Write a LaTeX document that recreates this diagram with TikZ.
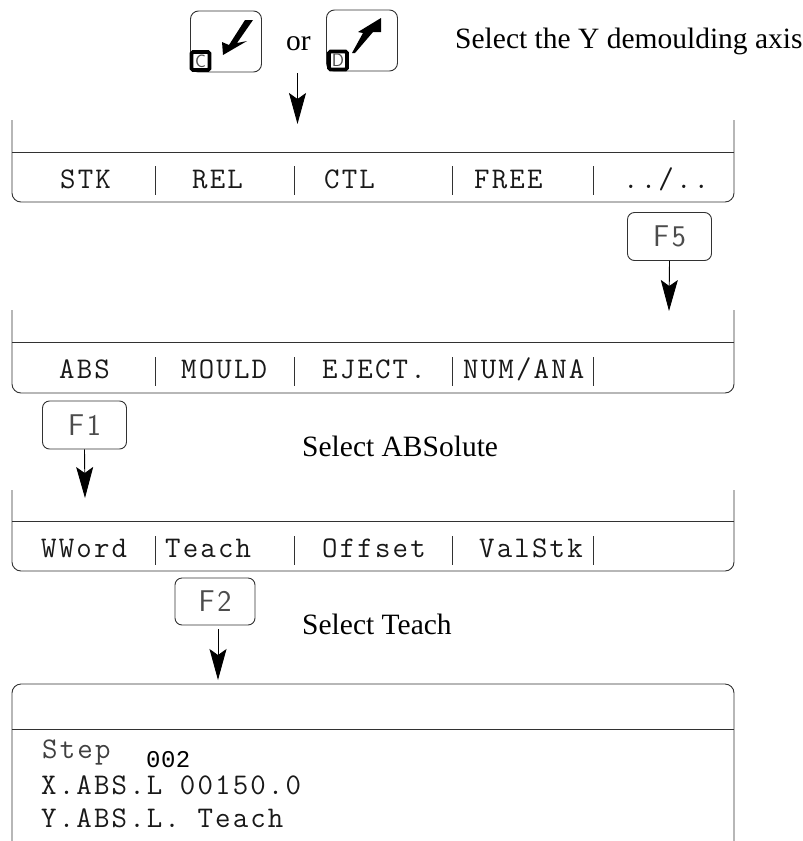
\documentclass[tikz,border=0pt]{standalone}
\usepackage{fontspec}
\setmainfont{Liberation Serif}
\newfontfamily\scrfont[LetterSpace=7.2]{Latin Modern Mono}
\newfontfamily\stepfont[LetterSpace=2]{Liberation Mono}
\newfontfamily\keyfont[LetterSpace=9]{Latin Modern Sans}
\usepackage{tikz}
\usetikzlibrary{arrows.meta,positioning}
\definecolor{lineink}{RGB}{50,50,50}
\tikzset{
  fkey/.style={rectangle,rounded corners=7pt,draw=lineink,line width=0.9pt,minimum width=84pt,minimum height=48pt,inner sep=0pt},
  arrowkey/.style={rectangle,rounded corners=8pt,draw=lineink,line width=0.9pt,minimum width=71pt,minimum height=61pt,inner sep=0pt},
  tag/.style={rectangle,draw=black,line width=3.6pt,rounded corners=1.5pt,fill=white,minimum size=18pt,inner sep=0pt,font=\fontsize{18}{18}\sffamily\selectfont,text=black!70},
  keytext/.style={font=\fontsize{30}{30}\keyfont\selectfont,text=black!70},
  note/.style={font=\fontsize{29.5}{30}\selectfont,anchor=base west,inner sep=0pt},
  scr/.style={font=\fontsize{30}{30}\scrfont\selectfont,text=black!90,anchor=base west,inner sep=0pt},
  panel/.style={draw=lineink,line width=0.9pt,rounded corners=9pt},
  sep/.style={draw=lineink,line width=0.9pt},
  down/.style={-{Stealth[length=31pt,width=17pt,inset=6pt]},draw=black,line width=0.9pt},
}
\begin{document}
\begin{tikzpicture}[x=1pt,y=-1pt]
  \useasboundingbox (0,0) rectangle (803,841);
  % keys at the top
  \node[arrowkey] (keyc) at (226,41.5) {};
  \node[arrowkey] (keyd) at (362,40.5) {};
  \node[tag] (tagc) at (200.5,61) {C};
  \node[tag] (tagd) at (338,60.5) {D};
  \fill (223,55) -- (222,42) -- (229,45) -- (245,20) -- (253,20) -- (237,43) -- (247,41) -- cycle;
  \fill (352,53) -- (355,53) -- (373,32) -- (381,32) -- (381,18) -- (358,32) -- (363,33) -- cycle;
  \node[note] (or) at (286,50) {or};
  \node[note] (axis) at (455,48) {Select the Y demoulding axis};
  \coordinate (or1) at (297.5,73);
  \coordinate (top1) at (297.5,124);
  \draw[down] (or1) -- (top1);
  % first screen
  \draw[panel] (12,120) -- (12,202) -- (734,202) -- (734,120);
  \draw[sep] (12,152) -- (734,152);
  \node[scr] (stk) at (60,188) {STK};
  \node[scr] (rel) at (192,188) {REL};
  \node[scr] (ctl) at (324,188) {CTL};
  \node[scr] (free) at (474,188) {FREE};
  \node[scr] (more) at (623,188) {../..};
  \draw[sep] (155,166) -- (155,195);
  \draw[sep] (294,166) -- (294,195);
  \draw[sep] (452.5,166) -- (452.5,195);
  \draw[sep] (593,166) -- (593,195);
  \node[fkey] (f5) at (669.5,236.5) {};
  \node[keytext] (f5t) at (f5) {F5};
  \coordinate (top2) at (669,311);
  \draw[down] (f5.south) -- (top2);
  % second screen
  \draw[panel] (12,310) -- (12,393) -- (734,393) -- (734,310);
  \draw[sep] (12,342) -- (734,342);
  \node[scr] (abs) at (59,378) {ABS};
  \node[scr] (mould) at (181,378) {MOULD};
  \node[scr] (eject) at (322,378) {EJECT.};
  \node[scr] (num) at (463,378) {NUM/ANA};
  \draw[sep] (155,357) -- (155,386);
  \draw[sep] (294,357) -- (294,386);
  \draw[sep] (452.5,357) -- (452.5,386);
  \draw[sep] (593,357) -- (593,386);
  \node[fkey] (f1) at (84.5,425) {};
  \node[keytext] (f1t) at (f1) {F1};
  \coordinate (top3) at (85,498);
  \draw[down] (f1.south) -- (top3);
  \node[note] (absel) at (302,456) {Select ABSolute};
  % third screen
  \draw[panel] (12,490) -- (12,571) -- (734,571) -- (734,490);
  \draw[sep] (12,521) -- (734,521);
  \node[scr] (wword) at (41,557) {WWord};
  \node[scr] (teach) at (165,557) {Teach};
  \node[scr] (offset) at (322,557) {Offset};
  \node[scr] (valstk) at (479,557) {ValStk};
  \draw[sep] (155,536) -- (155,565);
  \draw[sep] (294,536) -- (294,565);
  \draw[sep] (452.5,536) -- (452.5,565);
  \draw[sep] (593,536) -- (593,565);
  \node[fkey,minimum width=80pt,minimum height=47pt] (f2) at (215,601.5) {};
  \node[keytext] (f2t) at (f2) {F2};
  \coordinate (f2end) at (218,629);
  \coordinate (top4) at (218,680);
  \draw[down] (f2end) -- (top4);
  \node[note] (tsel) at (302,634) {Select Teach};
  % last screen
  \draw[panel] (12,841) -- (12,684) -- (734,684) -- (734,841);
  \draw[sep] (12,729) -- (734,729);
  \node[scr,text=black!75] (steplab) at (42,758) {Step};
  \node[font=\fontsize{24}{24}\stepfont\selectfont,anchor=base west,inner sep=0pt] (stepval) at (146,767) {002};
  \node[scr] (xline) at (41,794) {X.ABS.L 00150.0};
  \node[scr] (yline) at (41,827) {Y.ABS.L. Teach};
\end{tikzpicture}
\end{document}
